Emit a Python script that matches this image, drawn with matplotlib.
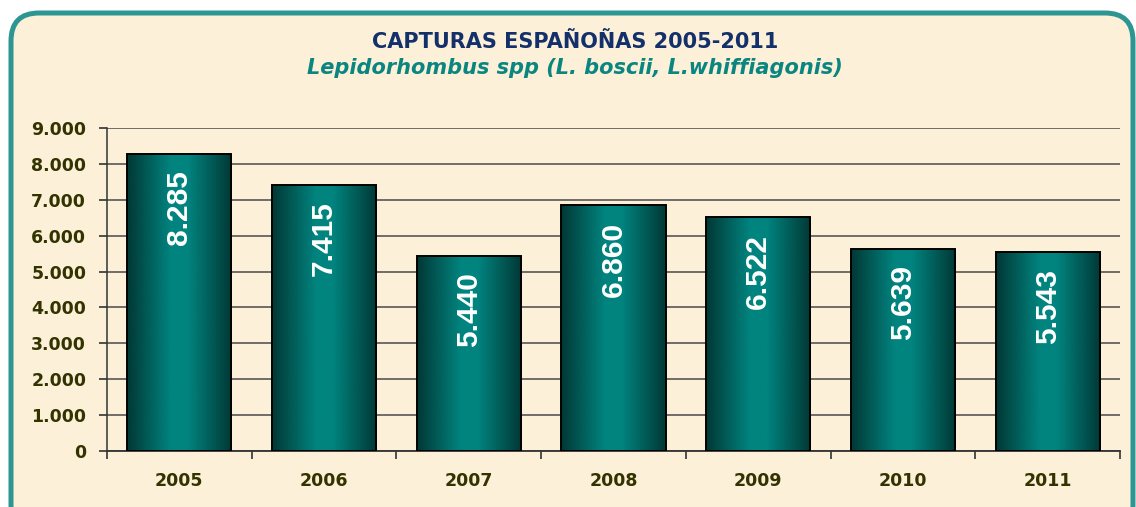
import numpy as np
import matplotlib
matplotlib.use("Agg")
import matplotlib.pyplot as plt
from matplotlib.patches import FancyBboxPatch
from matplotlib.colors import LinearSegmentedColormap
from matplotlib.font_manager import FontProperties

# ---- data ----
years = ["2005", "2006", "2007", "2008", "2009", "2010", "2011"]
catches = [8285, 7415, 5440, 6860, 6522, 5639, 5543]
value_labels = ["8.285", "7.415", "5.440", "6.860", "6.522", "5.639", "5.543"]
y_ticks = [0, 1000, 2000, 3000, 4000, 5000, 6000, 7000, 8000, 9000]
y_tick_labels = ["0", "1.000", "2.000", "3.000", "4.000", "5.000", "6.000", "7.000", "8.000", "9.000"]
title = "CAPTURAS ESPAÑOÑAS 2005-2011"
subtitle = "Lepidorhombus spp (L. boscii, L.whiffiagonis)"

plt.rcParams['font.family'] = ['DejaVu Sans']

W, H, DPI = 1136, 507, 100
fig = plt.figure(figsize=(W / DPI, H / DPI), dpi=DPI)
fig.patch.set_facecolor("white")

# background frame
bg = fig.add_axes([0, 0, 1, 1])
bg.set_xlim(0, W)
bg.set_ylim(H, 0)
bg.axis("off")
frame = FancyBboxPatch((11, 13), 1122, 520,
                       boxstyle="round,pad=0,rounding_size=28",
                       facecolor="#FCF0D9", edgecolor="#2E9692", linewidth=3.6)
bg.add_patch(frame)

# chart axes
ax = fig.add_axes([107 / W, 56 / H, (1120 - 107) / W, (451 - 128) / H])
ax.set_facecolor("none")
x = np.arange(len(years))
bars = ax.bar(x, catches, width=0.72, color="#017F7A", edgecolor="black",
              linewidth=1.4, zorder=3)

cmap = LinearSegmentedColormap.from_list(
    "tealgrad", [(0.0, "#013835"), (0.42, "#01847F"), (0.58, "#01847F"), (1.0, "#013835")])
grad = np.linspace(0, 1, 256).reshape(1, -1)
for b in bars:
    bx, by = b.get_x(), b.get_y()
    bw, bh = b.get_width(), b.get_height()
    im = ax.imshow(grad, cmap=cmap, aspect="auto",
                   extent=(bx, bx + bw, by, by + bh), zorder=3.5)
    im.set_clip_path(b)
    b.set_facecolor("none")
    b.set_zorder(4)

label_fp = FontProperties(family="Liberation Sans", weight="bold", size=21.5)
for xi, v, lab in zip(x, catches, value_labels):
    ax.annotate(lab, (xi, v), xytext=(0, -12), textcoords="offset points",
                rotation=90, ha="center", va="top", color="white",
                fontproperties=label_fp, zorder=5)

ax.set_xlim(-0.5, len(years) - 0.5)
ax.set_ylim(0, 9000)
ax.set_yticks(y_ticks)
ax.set_yticklabels(y_tick_labels)
ax.set_xticks(x)
ax.set_xticklabels(years)
ax.set_xticks(np.arange(len(years) + 1) - 0.5, minor=True)
ax.tick_params(axis="x", which="major", length=0, pad=15)
ax.tick_params(axis="x", which="minor", length=6, width=1.2, color="#333333")
ax.tick_params(axis="y", length=6, width=1.2, color="#333333", pad=9)
for lbl in ax.get_xticklabels() + ax.get_yticklabels():
    lbl.set_fontsize(12.5)
    lbl.set_fontweight("bold")
    lbl.set_color("#333300")

ax.grid(axis="y", color="#4A4A4A", linewidth=1.1, zorder=1)
for s in ["top", "right"]:
    ax.spines[s].set_visible(False)
ax.spines["left"].set_color("#333333")
ax.spines["bottom"].set_color("#333333")
ax.spines["left"].set_linewidth(1.1)
ax.spines["bottom"].set_linewidth(1.3)

fig.text(575 / W, 1 - 42 / H, title, ha="center", va="center",
         fontsize=15, fontweight="bold", color="#13306A")
fig.text(575 / W, 1 - 68 / H, subtitle, ha="center", va="center",
         fontsize=15, fontweight="bold", fontstyle="italic", color="#0B8580")

fig.savefig("out.png", dpi=DPI)
